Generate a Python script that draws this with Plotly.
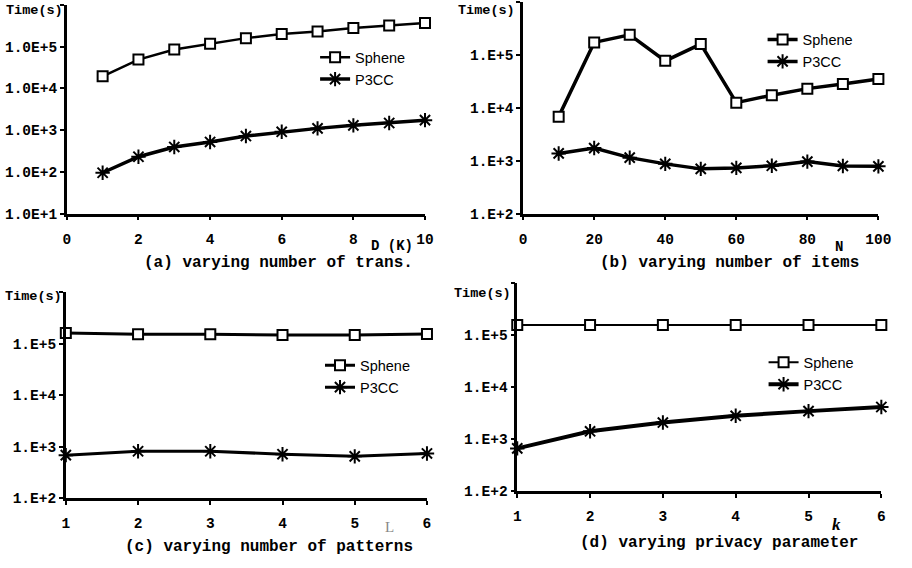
import plotly.graph_objects as go

# ---------------- data ----------------
a_x = [1, 2, 3, 4, 5, 6, 7, 8, 9, 10]
a_sphene = [19500, 49000, 85000, 118000, 160000, 200000, 230000, 280000, 320000, 370000]
a_p3cc = [95, 230, 395, 520, 720, 910, 1100, 1300, 1480, 1730]

b_x = [10, 20, 30, 40, 50, 60, 70, 80, 90, 100]
b_sphene = [6800, 172000, 240000, 77000, 160000, 12500, 17300, 23000, 28000, 35000]
b_p3cc = [1370, 1730, 1140, 870, 700, 730, 800, 960, 795, 780]

c_x = [1, 2, 3, 4, 5, 6]
c_sphene = [162000, 153000, 153000, 147000, 147000, 155000]
c_p3cc = [680, 810, 810, 710, 645, 735]

d_x = [1, 2, 3, 4, 5, 6]
d_sphene = [158000, 158000, 158000, 158000, 158000, 158000]
d_p3cc = [665, 1420, 2090, 2820, 3470, 4170]

series_names = ["Sphene", "P3CC"]
ylabels_a = ["1.0E+1", "1.0E+2", "1.0E+3", "1.0E+4", "1.0E+5"]
ylabels_bcd = ["1.E+2", "1.E+3", "1.E+4", "1.E+5"]
captions = ["(a) varying number of trans.", "(b) varying number of items",
            "(c) varying number of patterns", "(d) varying privacy parameter"]
xtitles = ["D (K)", "N", "L", "k"]

W, H = 912, 568
MONO = "Liberation Mono"
SANS = "Liberation Sans"

def px(x):
    return x / W

def py(y):
    return 1 - y / H

fig = go.Figure()

panels = [
    (a_x, a_sphene, a_p3cc, "x", "y", "legend", 2.5, 3.5),
    (b_x, b_sphene, b_p3cc, "x2", "y2", "legend2", 3.5, 3.5),
    (c_x, c_sphene, c_p3cc, "x3", "y3", "legend3", 3, 3),
    (d_x, d_sphene, d_p3cc, "x4", "y4", "legend4", 2, 4),
]

for xs, sph, p3, xa, ya, lg, lw1, lw2 in panels:
    fig.add_trace(go.Scatter(
        x=xs, y=sph, name=series_names[0], mode="lines+markers",
        xaxis=xa, yaxis=ya, legend=lg, cliponaxis=False,
        line=dict(color="black", width=lw1),
        marker=dict(symbol="square", size=10, color="white",
                    line=dict(color="black", width=2))))
    fig.add_trace(go.Scatter(
        x=xs, y=p3, name=series_names[1], mode="lines+markers",
        xaxis=xa, yaxis=ya, legend=lg, cliponaxis=False,
        line=dict(color="black", width=lw2),
        marker=dict(symbol="asterisk", size=12, color="black",
                    line=dict(color="black", width=2))))

tickfont = dict(family=MONO, size=14.5, color="black", weight="bold")

def xaxis_cfg(dom, rng, dtick, anchor):
    return dict(domain=dom, range=rng, dtick=dtick, tick0=0, anchor=anchor,
                showline=True, linecolor="black", linewidth=2.5,
                ticks="outside", ticklen=4, tickwidth=2, tickcolor="black",
                showgrid=False, zeroline=False, tickfont=tickfont,
                ticklabelstandoff=6)

def yaxis_cfg(dom, lo, labels, anchor):
    vals = [10 ** (lo + i) for i in range(len(labels))]
    return dict(domain=dom, type="log", range=[lo, 6], anchor=anchor,
                tickvals=vals + [1e6], ticktext=labels + [""],
                showline=True, linecolor="black", linewidth=2.5,
                ticks="outside", ticklen=4, tickwidth=2, tickcolor="black",
                showgrid=False, zeroline=False, tickfont=tickfont,
                ticklabelstandoff=0)

fig.update_layout(
    width=W, height=H, autosize=False,
    margin=dict(l=0, r=0, t=0, b=0),
    paper_bgcolor="white", plot_bgcolor="white",
    xaxis=xaxis_cfg([px(64), px(429)], [0, 10], 2, "y"),
    yaxis=yaxis_cfg([py(217), py(5)], 1, ylabels_a, "x"),
    xaxis2=xaxis_cfg([px(529), px(891)], [0, 100], 20, "y2"),
    yaxis2=yaxis_cfg([py(217), py(2)], 2, ylabels_bcd, "x2"),
    xaxis3=xaxis_cfg([px(63), px(431)], [1, 6], 1, "y3"),
    yaxis3=yaxis_cfg([py(506), py(297)], 2, ylabels_bcd, "x3"),
    xaxis4=xaxis_cfg([px(523), px(894)], [1, 6], 1, "y4"),
    yaxis4=yaxis_cfg([py(499), py(288)], 2, ylabels_bcd, "x4"),
)

legfont = dict(family=SANS, size=14.5, color="black")
for name, lx, ly in [("legend", 317, 42), ("legend2", 773, 24),
                     ("legend3", 322, 355), ("legend4", 774, 352)]:
    fig.update_layout({name: dict(x=px(lx), y=py(ly), xanchor="left", yanchor="top",
                                  bgcolor="rgba(0,0,0,0)", borderwidth=0,
                                  font=legfont, tracegroupgap=0)})

annotations = []
for xr, yc in [(62, 11), (523, 11), (61, 301), (519, 298)]:
    annotations.append(dict(x=px(xr), y=py(yc), xref="paper", yref="paper",
                            text="Time(s)", showarrow=False, xanchor="right",
                            yanchor="middle",
                            font=dict(family=MONO, size=13.5, color="black", weight="bold")))
for cap, xc, yc in [(captions[0], 280, 267), (captions[1], 739, 267),
                    (captions[2], 270, 556), (captions[3], 729, 552)]:
    annotations.append(dict(x=px(xc), y=py(yc), xref="paper", yref="paper",
                            text=cap, showarrow=False, xanchor="center", yanchor="middle",
                            font=dict(family=MONO, size=16, color="black", weight="bold")))
annotations.append(dict(x=px(395), y=py(250), xref="paper", yref="paper", text=xtitles[0],
                        showarrow=False, xanchor="center", yanchor="middle",
                        font=dict(family=MONO, size=14, color="black", weight="bold")))
annotations.append(dict(x=px(851), y=py(251), xref="paper", yref="paper", text=xtitles[1],
                        showarrow=False, xanchor="center", yanchor="middle",
                        font=dict(family=MONO, size=14, color="black", weight="bold")))
annotations.append(dict(x=px(393), y=py(535), xref="paper", yref="paper", text=xtitles[2],
                        showarrow=False, xanchor="center", yanchor="middle",
                        font=dict(family="Liberation Serif", size=15, color="#888888")))
annotations.append(dict(x=px(848), y=py(533), xref="paper", yref="paper", text=xtitles[3],
                        showarrow=False, xanchor="center", yanchor="middle",
                        font=dict(family="Liberation Serif", size=17, color="black",
                                  weight="bold", style="italic")))
fig.update_layout(annotations=annotations)

fig.write_html("out.html", config={"displayModeBar": False},
               post_script="document.body.style.margin='0px';"
                           "document.body.style.overflow='hidden';")
